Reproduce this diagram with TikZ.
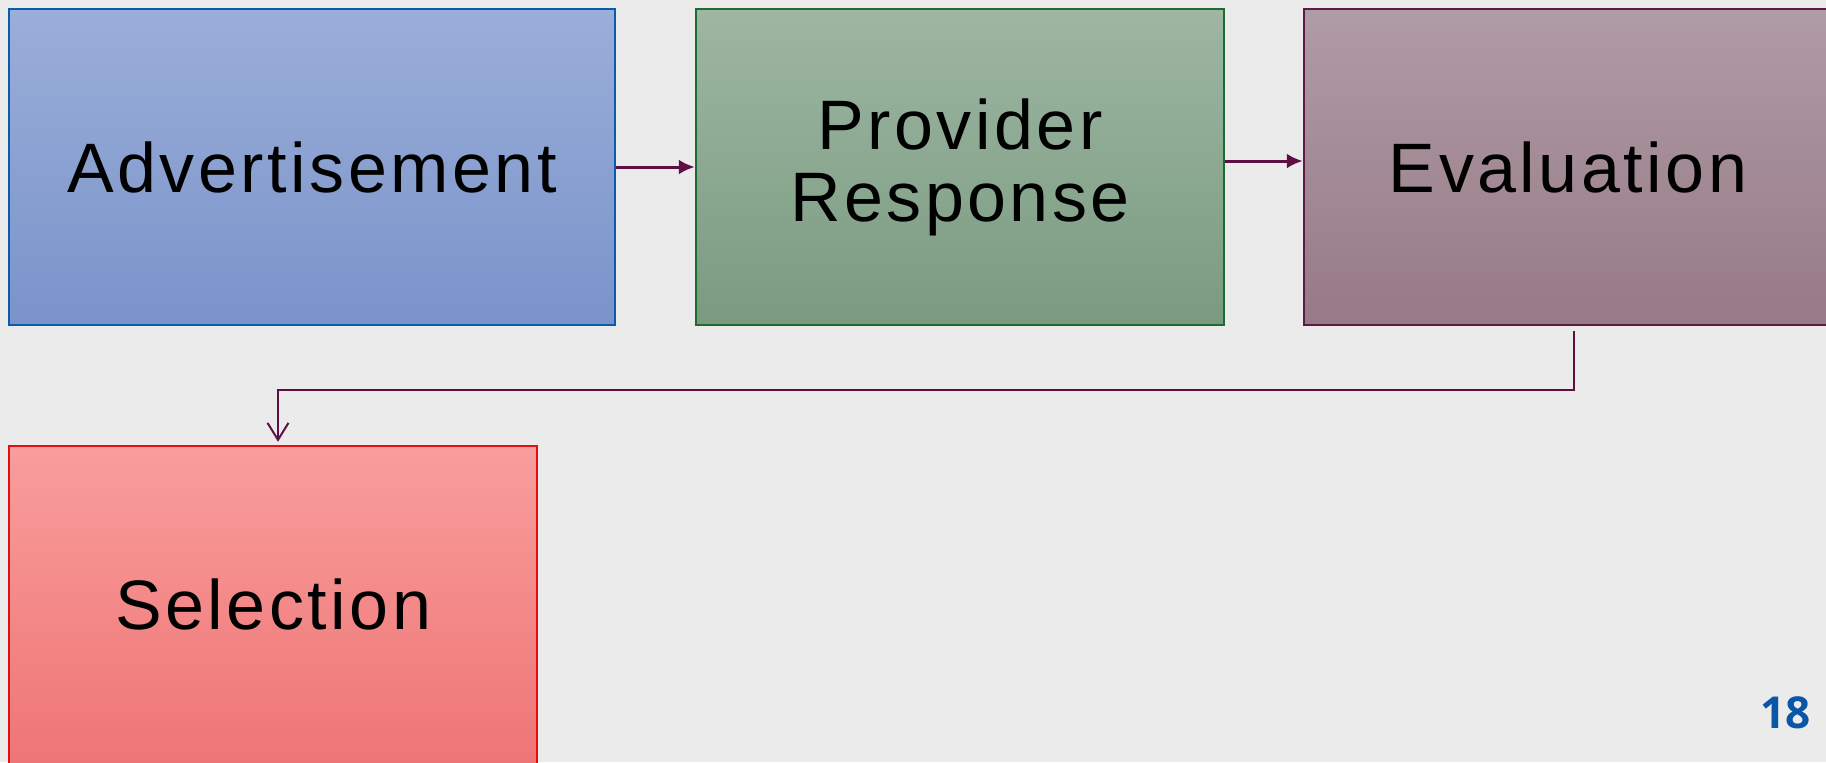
\documentclass[tikz,border=0pt]{standalone}
\usepackage{fontspec}
\setmainfont{Liberation Sans}
\newfontfamily\boxfont[LetterSpace=5]{Liberation Sans}
\newfontfamily\numfont{Open Sans}
\usetikzlibrary{arrows.meta}
\definecolor{bgc}{HTML}{EBEBEB}
\definecolor{arrc}{HTML}{5E1046}
\definecolor{numc}{HTML}{0A56A6}
\definecolor{advline}{HTML}{0B5AAE}
\definecolor{advtop}{HTML}{9AAED8}
\definecolor{advbot}{HTML}{7A93CA}
\definecolor{provline}{HTML}{1E6B32}
\definecolor{provtop}{HTML}{9EB6A3}
\definecolor{provbot}{HTML}{7A9B80}
\definecolor{evalline}{HTML}{5E1A46}
\definecolor{evaltop}{HTML}{B09CA5}
\definecolor{evalbot}{HTML}{967A86}
\definecolor{selline}{HTML}{E01010}
\definecolor{seltop}{HTML}{F89E9C}
\definecolor{selbot}{HTML}{EE7474}
\tikzset{
  box/.style={draw, line width=1.25pt, inner sep=0pt, minimum width=264pt, minimum height=158pt,
    align=center, font=\boxfont\fontsize{35}{36}\selectfont, text=black},
  advbox/.style={box, draw=advline, top color=advtop, bottom color=advbot, minimum width=303pt},
  provbox/.style={box, draw=provline, top color=provtop, bottom color=provbot},
  evalbox/.style={box, draw=evalline, top color=evaltop, bottom color=evalbot},
  selbox/.style={box, draw=selline, top color=seltop, bottom color=selbot, minimum height=162pt},
  flow/.style={draw=arrc, line width=1.5pt, -{Latex[length=8pt,width=7.5pt]}},
  elbow/.style={draw=arrc, line width=1pt, -{Straight Barb[length=8.5pt,width=10.5pt]}},
}
\begin{document}
\begin{tikzpicture}[x=0.5pt,y=-0.5pt]
  \useasboundingbox (0,0) rectangle (1826,762);
  \fill[bgc] (0,0) rectangle (1826,762);
  \clip (0,0) rectangle (1826,762);
  \node[advbox]  (adv)  at (312,167)  {Advertisement};
  \node[provbox] (prov) at (960,167)  {Provider\\Response};
  \node[evalbox] (eval) at (1568,167) {Evaluation};
  \node[selbox]  (sel)  at (273,608)  {\raisebox{4pt}{Selection}};
  \draw[flow] (adv.east) -- (prov.west);
  \draw[flow] ([yshift=3pt]prov.east) -- ([yshift=3pt]eval.west);
  \draw[elbow] ([xshift=3pt,yshift=-2.5pt]eval.south) -- ++(0,59) -| ([xshift=2.5pt,yshift=1.5pt]sel.north);
  \node[anchor=base east, inner sep=0pt, text=numc, font=\numfont\bfseries\fontsize{22}{24}\selectfont] (num) at (1811,728) {18};
\end{tikzpicture}
\end{document}
